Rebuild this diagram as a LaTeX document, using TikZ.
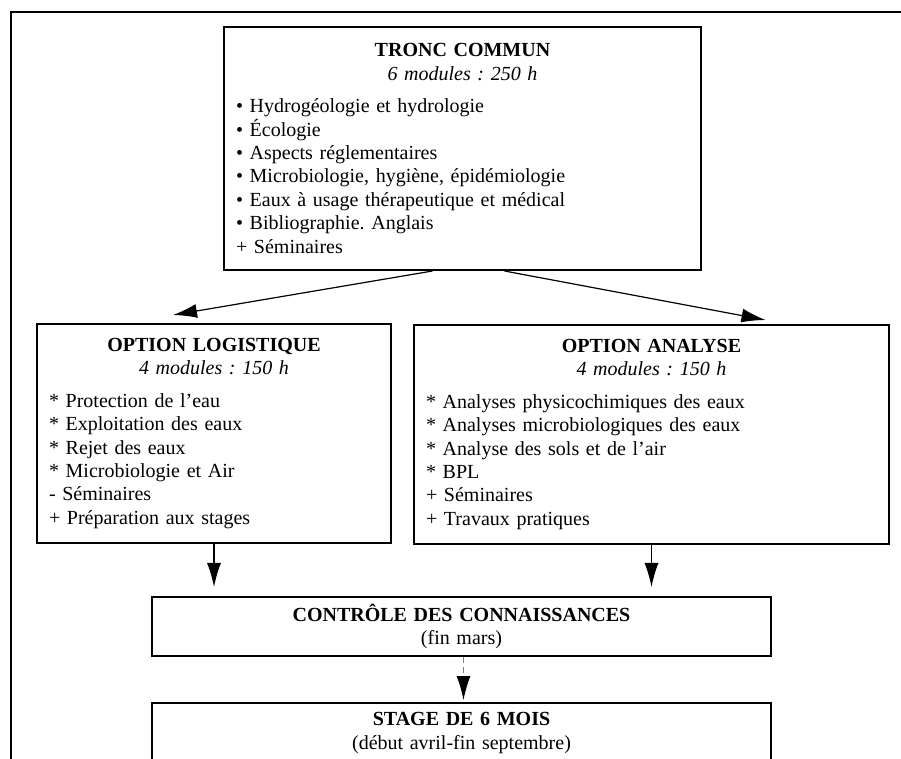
\documentclass[tikz,border=0pt]{standalone}
\usepackage{fontspec}
\setmainfont{Liberation Serif}
\usetikzlibrary{arrows.meta}
\frenchspacing

\tikzset{
  bloc/.style={draw, line width=1pt, anchor=north west, inner xsep=6pt,
    inner ysep=0pt, align=left, font=\fontsize{10}{11.7}\selectfont},
  fleche/.style={-{Latex[length=12pt,width=7pt]}, line width=0.6pt},
}

\begin{document}
\begin{tikzpicture}[x=0.5pt, y=-0.5pt]
\useasboundingbox (0,0) rectangle (901,759);
\clip (0,0) rectangle (901,759);

% Draw the outer frame
\draw[line width=1.3pt] (11,770) -- (11,12) -- (910,12);

% Draw the boxes
\node[bloc, text width=226.5pt, minimum height=121.5pt] (tronc) at (223,26)
  {\centering\textbf{TRONC COMMUN}\par\textit{6 modules : 250 h}\par\vspace{4.5pt}
   \raggedright • Hydrogéologie et hydrologie\\
   • Écologie\\
   • Aspects réglementaires\\
   • Microbiologie, hygiène, épidémiologie\\
   • Eaux à usage thérapeutique et médical\\
   • Bibliographie. Anglais\\
   + Séminaires\par};

\node[bloc, text width=165pt, minimum height=109.5pt] (logistique) at (36,323)
  {\centering\textbf{OPTION LOGISTIQUE}\par\textit{4 modules : 150 h}\par\vspace{4.5pt}
   \raggedright {*} Protection de l’eau\\
   {*} Exploitation des eaux\\
   {*} Rejet des eaux\\
   {*} Microbiologie et Air\\
   - Séminaires\\
   + Préparation aux stages\par};

\node[bloc, text width=225.5pt, minimum height=109.5pt] (analyse) at (413,324)
  {\centering\textbf{OPTION ANALYSE}\par\textit{4 modules : 150 h}\par\vspace{4.5pt}
   \raggedright {*} Analyses physicochimiques des eaux\\
   {*} Analyses microbiologiques des eaux\\
   {*} Analyse des sols et de l’air\\
   {*} BPL\\
   + Séminaires\\
   + Travaux pratiques\par};

\node[bloc, align=center, text width=297.5pt, minimum height=29.5pt] (controle) at (151,596)
  {\textbf{CONTRÔLE DES CONNAISSANCES}\\(fin mars)};

\node[bloc, align=center, text width=297.5pt, minimum height=30pt] (stage) at (151,702)
  {\textbf{STAGE DE 6 MOIS}\\(début avril-fin septembre)};

% Draw the arrows
\draw[fleche] ([xshift=-15pt]tronc.south) -- ([xshift=-20.5pt, yshift=4pt]logistique.north);
\draw[fleche] ([xshift=21pt]tronc.south) -- ([xshift=57pt, yshift=2pt]analyse.north);
\draw[fleche, shorten >=4.5pt] (logistique.south) -- (logistique.south |- controle.north);
\draw[fleche, shorten >=4.5pt] (analyse.south) -- (analyse.south |- controle.north);
\draw[-{Latex[length=12pt,width=7pt,color=black]}, line width=0.6pt, draw=gray, densely dashed, shorten >=1pt]
  ([xshift=1pt]controle.south) -- ([xshift=1pt]stage.north);
\end{tikzpicture}
\end{document}
